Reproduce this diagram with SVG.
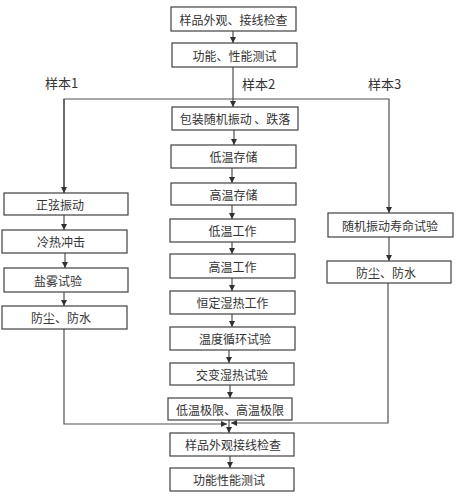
<svg xmlns="http://www.w3.org/2000/svg" width="459" height="499" viewBox="0 0 459 499">
<defs>
<style>
.box rect{fill:#fff;stroke:#404040;stroke-width:1.2}
.box text{font-family:"Microsoft YaHei","Noto Sans CJK SC",sans-serif;font-size:12px;fill:#333;text-anchor:middle;dominant-baseline:central}
.lbl{font-family:"Noto Sans CJK SC",sans-serif;font-size:13px;fill:#333}
.ln{fill:none;stroke:#505050;stroke-width:1.2}
</style>
<marker id="ah" viewBox="0 0 8 8" refX="8" refY="4" markerWidth="6" markerHeight="6" orient="auto" markerUnits="userSpaceOnUse">
<path d="M0,0 L8,4 L0,8 z" fill="#303030"/>
</marker>
</defs>
<rect width="459" height="499" fill="#fff"/>
<g id="connectors">
<path class="ln" d="M233,31 V43" marker-end="url(#ah)"/>
<path class="ln" d="M233,67 V107" marker-end="url(#ah)"/>
<path class="ln" d="M64,193 V99 H389 V213" marker-end="url(#ah)"/>
<path class="ln" d="M64,99 V193" marker-end="url(#ah)"/>
<path class="ln" d="M234,130 V145" marker-end="url(#ah)"/>
<path class="ln" d="M232,168 V183" marker-end="url(#ah)"/>
<path class="ln" d="M232,205 V219" marker-end="url(#ah)"/>
<path class="ln" d="M232,242 V254" marker-end="url(#ah)"/>
<path class="ln" d="M232,278 V291" marker-end="url(#ah)"/>
<path class="ln" d="M232,314 V327" marker-end="url(#ah)"/>
<path class="ln" d="M229,350 V363" marker-end="url(#ah)"/>
<path class="ln" d="M230,385 V398" marker-end="url(#ah)"/>
<path class="ln" d="M229,420 V433" marker-end="url(#ah)"/>
<path class="ln" d="M230,456 V468" marker-end="url(#ah)"/>
<path class="ln" d="M64,215 V230" marker-end="url(#ah)"/>
<path class="ln" d="M65,253 V268" marker-end="url(#ah)"/>
<path class="ln" d="M64,292 V306" marker-end="url(#ah)"/>
<path class="ln" d="M389,237 V261" marker-end="url(#ah)"/>
<path class="ln" d="M64,329 V424 H227" marker-end="url(#ah)"/>
<path class="ln" d="M388,283 V423 H231" marker-end="url(#ah)"/>
</g>
<text class="lbl" x="45" y="88">样本1</text>
<text class="lbl" x="242" y="89">样本2</text>
<text class="lbl" x="368" y="89">样本3</text>
<g id="n1" class="box"><rect x="171" y="7" width="125" height="24"/><text x="233.5" y="19">样品外观、接线检查</text></g>
<g id="n2" class="box"><rect x="172" y="43" width="125" height="24"/><text x="234.5" y="55">功能、性能测试</text></g>
<g id="n3" class="box"><rect x="172" y="107" width="126" height="23"/><text x="235" y="118.5">包装随机振动 、跌落</text></g>
<g id="n4" class="box"><rect x="171" y="145" width="125" height="23"/><text x="233.5" y="156.5">低温存储</text></g>
<g id="n5" class="box"><rect x="171" y="183" width="125" height="22"/><text x="233.5" y="194">高温存储</text></g>
<g id="n6" class="box"><rect x="170" y="219" width="125" height="23"/><text x="232.5" y="230.5">低温工作</text></g>
<g id="n7" class="box"><rect x="170" y="254" width="125" height="24"/><text x="232.5" y="266">高温工作</text></g>
<g id="n8" class="box"><rect x="170" y="291" width="125" height="23"/><text x="232.5" y="302.5">恒定湿热工作</text></g>
<g id="n9" class="box"><rect x="170" y="327" width="125" height="23"/><text x="235" y="338.5">温度循环试验</text></g>
<g id="n10" class="box"><rect x="170" y="363" width="124" height="22"/><text x="232" y="374">交变湿热试验</text></g>
<g id="n11" class="box"><rect x="168" y="398" width="124" height="22"/><text x="230" y="409">低温极限、高温极限</text></g>
<g id="n12" class="box"><rect x="170" y="433" width="124" height="23"/><text x="233" y="444.5">样品外观接线检查</text></g>
<g id="n13" class="box"><rect x="170" y="468" width="124" height="23"/><text x="229" y="479.5">功能性能测试</text></g>
<g id="l1" class="box"><rect x="4" y="193" width="124" height="22"/><text x="60" y="204">正弦振动</text></g>
<g id="l2" class="box"><rect x="2" y="230" width="125" height="23"/><text x="61" y="241.5">冷热冲击</text></g>
<g id="l3" class="box"><rect x="4" y="268" width="124" height="24"/><text x="58" y="280">盐雾试验</text></g>
<g id="l4" class="box"><rect x="2" y="306" width="125" height="23"/><text x="61" y="317.5">防尘、防水</text></g>
<g id="r1" class="box"><rect x="328" y="213" width="125" height="24"/><text x="390" y="225">随机振动寿命试验</text></g>
<g id="r2" class="box"><rect x="327" y="261" width="124" height="22"/><text x="386" y="272">防尘、防水</text></g>
</svg>
